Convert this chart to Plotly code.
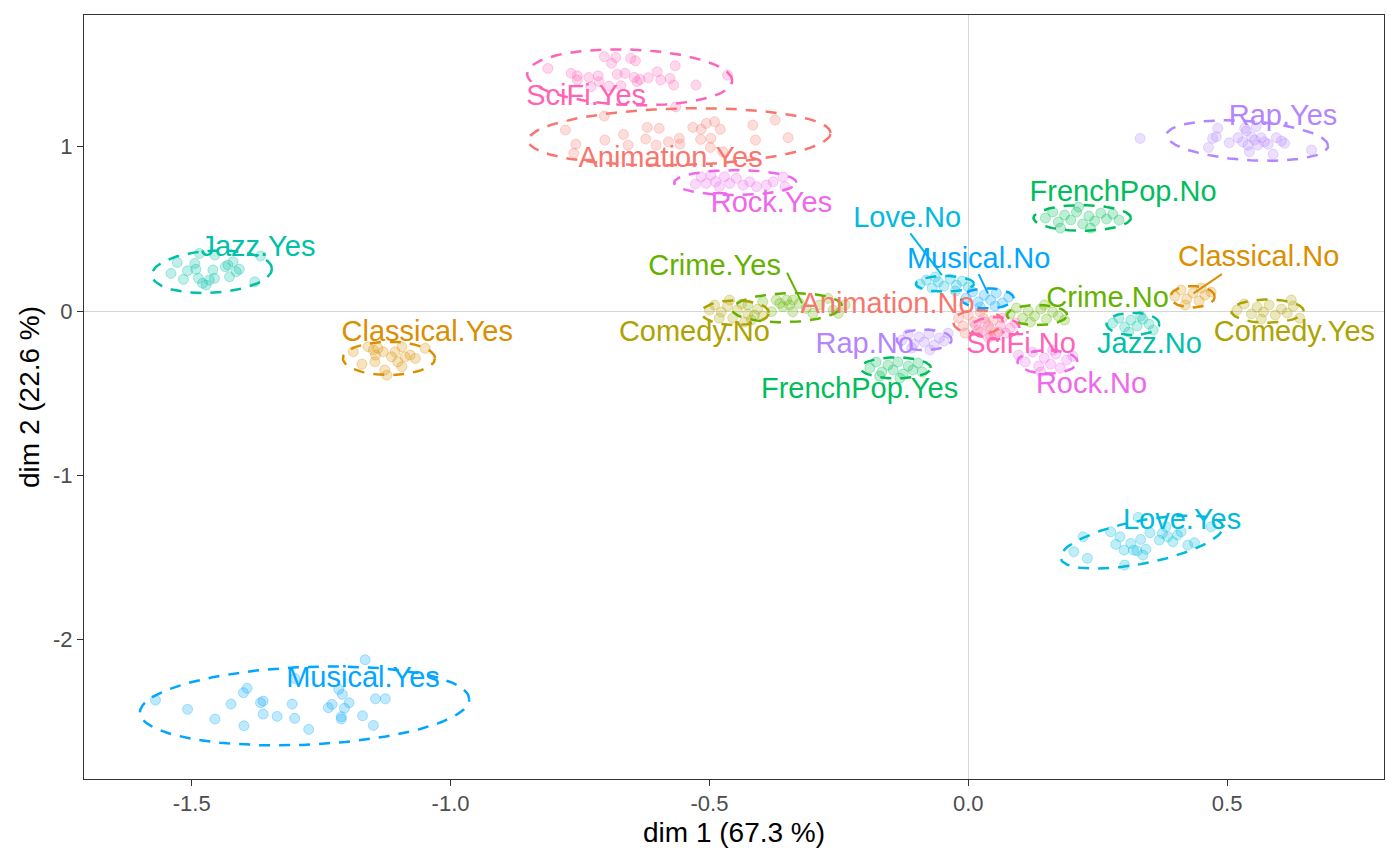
import numpy as np
import plotly.graph_objects as go

# hue palette per variable
colors = {
    "Animation": "#F8766D", "Classical": "#DB8E00", "Comedy": "#AEA200",
    "Crime": "#64B200", "FrenchPop": "#00BD5C", "Jazz": "#00C1A7",
    "Love": "#00BADE", "Musical": "#00A6FF", "Rap": "#B385FF",
    "Rock": "#EF67EB", "SciFi": "#FF63B6",
}

# bootstrap replicate coordinates (dim 1, dim 2)
jazz_yes = [(-1.528, 0.296), (-1.540, 0.229), (-1.516, 0.193), (-1.508, 0.245), (-1.494, 0.290),
            (-1.492, 0.254), (-1.487, 0.199), (-1.479, 0.169), (-1.472, 0.158), (-1.466, 0.189),
            (-1.459, 0.250), (-1.456, 0.199), (-1.455, 0.341), (-1.435, 0.270), (-1.430, 0.280),
            (-1.427, 0.209), (-1.420, 0.300), (-1.414, 0.239), (-1.408, 0.254), (-1.378, 0.178),
            (-1.367, 0.335), (-1.485, 0.351)]
classical_yes = [(-1.188, -0.248), (-1.171, -0.323), (-1.159, -0.217), (-1.149, -0.237), (-1.145, -0.268),
                 (-1.140, -0.227), (-1.130, -0.248), (-1.127, -0.359), (-1.123, -0.390), (-1.114, -0.278),
                 (-1.107, -0.248), (-1.102, -0.309), (-1.094, -0.217), (-1.094, -0.339), (-1.088, -0.278),
                 (-1.078, -0.268), (-1.068, -0.288), (-1.049, -0.227), (-1.146, -0.309)]
musical_yes = [(-1.570, -2.368), (-1.508, -2.424), (-1.455, -2.483), (-1.424, -2.392), (-1.400, -2.323),
               (-1.393, -2.296), (-1.399, -2.524), (-1.367, -2.384), (-1.362, -2.374), (-1.362, -2.453),
               (-1.335, -2.467), (-1.306, -2.392), (-1.301, -2.479), (-1.301, -2.236), (-1.274, -2.546),
               (-1.236, -2.414), (-1.229, -2.394), (-1.216, -2.302), (-1.209, -2.333), (-1.205, -2.418),
               (-1.211, -2.483), (-1.211, -2.469), (-1.196, -2.384), (-1.170, -2.463), (-1.165, -2.122),
               (-1.149, -2.522), (-1.145, -2.360), (-1.126, -2.360)]
scifi_yes = [(-0.812, 1.477), (-0.767, 1.447), (-0.755, 1.432), (-0.755, 1.406), (-0.733, 1.422),
             (-0.729, 1.365), (-0.715, 1.432), (-0.713, 1.396), (-0.703, 1.548), (-0.694, 1.369),
             (-0.689, 1.508), (-0.681, 1.544), (-0.678, 1.441), (-0.671, 1.371), (-0.663, 1.447),
             (-0.652, 1.538), (-0.643, 1.523), (-0.645, 1.422), (-0.640, 1.396), (-0.634, 1.410),
             (-0.618, 1.420), (-0.601, 1.456), (-0.594, 1.406), (-0.576, 1.416), (-0.569, 1.376),
             (-0.566, 1.493), (-0.565, 1.243), (-0.526, 1.376), (-0.465, 1.436)]
animation_yes = [(-0.778, 1.102), (-0.758, 1.016), (-0.762, 0.960), (-0.703, 1.187), (-0.702, 1.041),
                 (-0.666, 1.075), (-0.657, 1.010), (-0.623, 1.047), (-0.620, 1.118), (-0.597, 1.112),
                 (-0.603, 1.010), (-0.579, 1.030), (-0.558, 1.051), (-0.557, 1.016), (-0.532, 1.118),
                 (-0.516, 1.106), (-0.506, 1.142), (-0.490, 1.152), (-0.517, 1.045), (-0.497, 1.051),
                 (-0.498, 0.996), (-0.479, 1.106), (-0.474, 0.970), (-0.416, 1.132), (-0.411, 1.041),
                 (-0.373, 1.163), (-0.348, 1.055)]
rock_yes = [(-0.527, 0.773), (-0.516, 0.817), (-0.506, 0.777), (-0.497, 0.828), (-0.488, 0.787),
            (-0.481, 0.757), (-0.471, 0.817), (-0.461, 0.777), (-0.448, 0.808), (-0.435, 0.767),
            (-0.422, 0.787), (-0.409, 0.757), (-0.390, 0.767), (-0.377, 0.787), (-0.358, 0.817),
            (-0.354, 0.757)]
rap_yes = [(0.332, 1.051), (0.464, 0.996), (0.472, 1.051), (0.482, 1.112), (0.479, 1.061),
           (0.504, 1.024), (0.521, 1.055), (0.530, 1.030), (0.537, 1.096), (0.540, 1.010),
           (0.543, 0.970), (0.547, 1.061), (0.553, 1.041), (0.559, 1.010), (0.566, 1.055),
           (0.572, 1.030), (0.579, 1.015), (0.589, 0.954), (0.595, 1.055), (0.605, 1.035),
           (0.611, 1.021), (0.663, 0.980), (0.534, 1.112), (0.556, 1.122)]
love_yes = [(0.204, -1.465), (0.222, -1.374), (0.230, -1.505), (0.275, -1.343), (0.285, -1.420),
            (0.293, -1.374), (0.301, -1.455), (0.302, -1.546), (0.314, -1.414), (0.319, -1.455),
            (0.328, -1.256), (0.326, -1.459), (0.333, -1.390), (0.337, -1.485), (0.343, -1.450),
            (0.351, -1.349), (0.369, -1.394), (0.375, -1.353), (0.382, -1.313), (0.385, -1.374),
            (0.395, -1.404), (0.404, -1.363), (0.411, -1.343), (0.424, -1.424), (0.437, -1.410),
            (0.469, -1.313)]
frenchpop_no = [(0.149, 0.566), (0.163, 0.603), (0.174, 0.542), (0.186, 0.584), (0.198, 0.554),
                (0.209, 0.603), (0.221, 0.530), (0.233, 0.578), (0.244, 0.548), (0.256, 0.596),
                (0.267, 0.560), (0.279, 0.590), (0.291, 0.554), (0.178, 0.505), (0.236, 0.505),
                (0.213, 0.633)]
love_no = [(-0.093, 0.164), (-0.081, 0.189), (-0.070, 0.140), (-0.058, 0.177), (-0.047, 0.152),
           (-0.035, 0.195), (-0.023, 0.158), (-0.012, 0.183), (0.000, 0.146), (-0.064, 0.207),
           (-0.025, 0.122)]
musical_no = [(-0.004, 0.079), (0.008, 0.116), (0.019, 0.055), (0.031, 0.097), (0.043, 0.067),
              (0.054, 0.110), (0.066, 0.049), (0.078, 0.085), (0.023, 0.024), (0.052, 0.030)]
classical_no = [(0.399, 0.091), (0.411, 0.128), (0.422, 0.073), (0.434, 0.110), (0.446, 0.061),
                (0.457, 0.097), (0.469, 0.116), (0.419, 0.037), (0.450, 0.140)]
crime_yes = [(-0.397, 0.057), (-0.380, -0.004), (-0.371, 0.067), (-0.364, 0.047), (-0.358, 0.026),
             (-0.351, 0.067), (-0.345, 0.037), (-0.339, -0.004), (-0.326, 0.047), (-0.313, 0.016),
             (-0.300, -0.014), (-0.287, 0.037), (-0.271, 0.077), (-0.261, 0.006), (-0.251, -0.014),
             (-0.339, 0.067), (-0.426, 0.037), (-0.413, -0.024), (-0.238, 0.037)]
comedy_no = [(-0.500, 0.006), (-0.490, 0.037), (-0.477, -0.006), (-0.465, 0.030), (-0.455, -0.043),
             (-0.446, 0.006), (-0.438, 0.043), (-0.426, -0.018), (-0.419, -0.055), (-0.407, 0.012),
             (-0.397, -0.030), (-0.481, -0.043), (-0.461, 0.067), (-0.432, -0.067)]
animation_no = [(-0.019, -0.043), (-0.010, -0.091), (0.000, -0.024), (0.010, -0.067), (0.019, -0.116),
                (0.029, -0.043), (0.039, -0.091), (0.048, -0.055), (0.058, -0.128), (-0.006, -0.134),
                (0.023, -0.006), (0.043, -0.152)]
scifi_no = [(0.014, -0.085), (0.023, -0.128), (0.033, -0.067), (0.043, -0.116), (0.052, -0.152),
            (0.062, -0.091), (0.072, -0.134), (0.081, -0.103), (0.091, -0.073), (0.039, -0.164),
            (0.066, -0.043)]
rock_no = [(0.097, -0.268), (0.110, -0.310), (0.124, -0.250), (0.136, -0.335), (0.147, -0.286),
           (0.159, -0.323), (0.169, -0.262), (0.178, -0.347), (0.190, -0.298), (0.202, -0.274),
           (0.140, -0.371), (0.163, -0.237)]
crime_no = [(0.081, -0.018), (0.093, 0.018), (0.105, -0.043), (0.116, 0.000), (0.128, -0.030),
            (0.140, 0.012), (0.151, -0.049), (0.163, -0.006), (0.174, -0.030), (0.186, -0.055),
            (0.120, -0.067), (0.147, 0.037)]
jazz_no = [(0.279, -0.073), (0.291, -0.043), (0.302, -0.097), (0.314, -0.055), (0.326, -0.091),
           (0.337, -0.049), (0.349, -0.079), (0.357, -0.116), (0.310, -0.128), (0.333, -0.030)]
comedy_yes = [(0.519, 0.006), (0.533, 0.043), (0.547, -0.018), (0.558, 0.024), (0.570, -0.006),
              (0.581, 0.037), (0.593, -0.024), (0.605, 0.012), (0.616, -0.012), (0.628, 0.030),
              (0.640, -0.043), (0.566, -0.049), (0.624, 0.067)]
rap_no = [(-0.128, -0.177), (-0.116, -0.140), (-0.105, -0.201), (-0.095, -0.158), (-0.085, -0.189),
          (-0.076, -0.140), (-0.066, -0.207), (-0.056, -0.164), (-0.047, -0.183), (-0.109, -0.225),
          (-0.074, -0.237), (-0.039, -0.134)]
frenchpop_yes = [(-0.190, -0.347), (-0.178, -0.310), (-0.167, -0.371), (-0.155, -0.329), (-0.145, -0.359),
                 (-0.136, -0.310), (-0.126, -0.383), (-0.116, -0.335), (-0.107, -0.359), (-0.097, -0.316),
                 (-0.089, -0.371), (-0.171, -0.396), (-0.132, -0.408)]

# (category, variable, replicates, ellipse: cx, cy, ax, ay, by)
groups = [
    ("Jazz.Yes", "Jazz", jazz_yes, (-1.461, 0.239, 0.116, 0.018, 0.128)),
    ("Classical.Yes", "Classical", classical_yes, (-1.119, -0.288, 0.089, 0.0, 0.101)),
    ("Musical.Yes", "Musical", musical_yes, (-1.282, -2.403, 0.318, 0.040, 0.237)),
    ("SciFi.Yes", "SciFi", scifi_yes, (-0.654, 1.423, 0.198, -0.021, 0.169)),
    ("Animation.Yes", "Animation", animation_yes, (-0.558, 1.061, 0.292, 0.022, 0.172)),
    ("Rock.Yes", "Rock", rock_yes, (-0.450, 0.782, 0.118, 0.0, 0.076)),
    ("Rap.Yes", "Rap", rap_yes, (0.539, 1.038, 0.156, -0.032, 0.119)),
    ("Love.Yes", "Love", love_yes, (0.335, -1.406, 0.157, 0.091, 0.133)),
    ("FrenchPop.No", "FrenchPop", frenchpop_no, (0.220, 0.567, 0.094, 0.0, 0.078)),
    ("Love.No", "Love", love_no, (-0.045, 0.166, 0.056, 0.0, 0.048)),
    ("Musical.No", "Musical", musical_no, (0.037, 0.077, 0.051, 0.0, 0.061)),
    ("Classical.No", "Classical", classical_no, (0.433, 0.087, 0.043, 0.0, 0.065)),
    ("Crime.Yes", "Crime", crime_yes, (-0.350, 0.021, 0.106, 0.010, 0.088)),
    ("Comedy.No", "Comedy", comedy_no, (-0.450, -0.010, 0.065, 0.0, 0.075)),
    ("Animation.No", "Animation", animation_no, (0.019, -0.067, 0.048, 0.0, 0.073)),
    ("Crime.No", "Crime", crime_no, (0.133, -0.024, 0.058, 0.0, 0.061)),
    ("Comedy.Yes", "Comedy", comedy_yes, (0.578, 0.000, 0.070, 0.0, 0.071)),
    ("Jazz.No", "Jazz", jazz_no, (0.318, -0.078, 0.051, 0.0, 0.068)),
    ("Rap.No", "Rap", rap_no, (-0.085, -0.175, 0.053, 0.0, 0.063)),
    ("SciFi.No", "SciFi", scifi_no, (0.052, -0.103, 0.047, 0.0, 0.067)),
    ("Rock.No", "Rock", rock_no, (0.153, -0.309, 0.058, 0.0, 0.071)),
    ("FrenchPop.Yes", "FrenchPop", frenchpop_yes, (-0.140, -0.346, 0.068, 0.0, 0.064)),
]

# repelled label positions
label_pos = {
    "SciFi.Yes": (-0.738, 1.296), "Animation.Yes": (-0.575, 0.919), "Rock.Yes": (-0.380, 0.645),
    "Rap.Yes": (0.608, 1.175), "FrenchPop.No": (0.299, 0.712), "Love.No": (-0.118, 0.554),
    "Musical.No": (0.020, 0.304), "Classical.No": (0.561, 0.316), "Crime.Yes": (-0.490, 0.262),
    "Animation.No": (-0.156, 0.030), "Crime.No": (0.269, 0.067), "Comedy.No": (-0.529, -0.140),
    "Comedy.Yes": (0.630, -0.140), "Jazz.No": (0.350, -0.213), "Rap.No": (-0.200, -0.213),
    "SciFi.No": (0.102, -0.213), "Rock.No": (0.238, -0.456), "FrenchPop.Yes": (-0.210, -0.487),
    "Jazz.Yes": (-1.372, 0.377), "Classical.Yes": (-1.045, -0.140), "Love.Yes": (0.413, -1.284),
    "Musical.Yes": (-1.169, -2.246),
}

# leader segments: label side -> category point
segments = {
    "Love.No": ((-0.112, 0.473), (-0.051, 0.219)),
    "Musical.No": ((0.020, 0.225), (0.038, 0.108)),
    "Classical.No": ((0.490, 0.225), (0.435, 0.108)),
    "Crime.Yes": ((-0.350, 0.233), (-0.321, 0.047)),
}


def rgba(hex_col, a):
    h = hex_col.lstrip("#")
    return f"rgba({int(h[0:2], 16)},{int(h[2:4], 16)},{int(h[4:6], 16)},{a})"


def ellipse(cx, cy, ax, ay, by, n=120):
    t = np.linspace(0, 2 * np.pi, n)
    return cx + ax * np.cos(t), cy + ay * np.cos(t) + by * np.sin(t)


FONT = "Liberation Sans, Arial, Helvetica, sans-serif"
fig = go.Figure()

# points
for name, var, pts, _ in groups:
    col = colors[var]
    fig.add_trace(go.Scatter(
        x=[p[0] for p in pts], y=[p[1] for p in pts], mode="markers",
        marker=dict(size=10, color=rgba(col, 0.25), line=dict(width=1, color=rgba(col, 0.3))),
        hoverinfo="skip", showlegend=False,
    ))

# ellipses
for name, var, pts, ell in groups:
    ex, ey = ellipse(*ell)
    fig.add_trace(go.Scatter(
        x=ex, y=ey, mode="lines",
        line=dict(color=colors[var], width=2.5, dash="11px,9px"),
        hoverinfo="skip", showlegend=False,
    ))

# leader lines
for name, (p0, p1) in segments.items():
    var = name.split(".")[0]
    fig.add_trace(go.Scatter(
        x=[p0[0], p1[0]], y=[p0[1], p1[1]], mode="lines",
        line=dict(color=colors[var], width=2), hoverinfo="skip", showlegend=False,
    ))

# labels
for name, var, pts, _ in groups:
    lx, ly = label_pos[name]
    fig.add_trace(go.Scatter(
        x=[lx], y=[ly], mode="text", text=[name],
        textfont=dict(family=FONT, size=29, color=colors[var]),
        hoverinfo="skip", showlegend=False,
    ))

axis_style = dict(
    automargin=False, showgrid=False,
    zeroline=True, zerolinecolor="#D6D6D6", zerolinewidth=1,
    showline=True, mirror=True, linecolor="#333333", linewidth=1.2,
    ticks="outside", ticklen=6, tickcolor="#333333", tickwidth=1.2,
    tickfont=dict(family=FONT, size=22, color="#4D4D4D"),
)
fig.update_xaxes(
    range=[-1.708, 0.803], tickvals=[-1.5, -1.0, -0.5, 0.0, 0.5],
    ticktext=["-1.5", "-1.0", "-0.5", "0.0", "0.5"], ticklabelstandoff=-2, **axis_style,
)
fig.update_yaxes(
    range=[-2.848, 1.802], tickvals=[-2, -1, 0, 1], ticktext=["-2", "-1", "0", "1"],
    **axis_style,
)

# axis titles
fig.add_annotation(
    text="dim 1 (67.3 %)", xref="paper", yref="paper", x=0.5, y=0,
    xanchor="center", yanchor="middle", yshift=-53, showarrow=False,
    font=dict(family=FONT, size=28, color="black"),
)
fig.add_annotation(
    text="dim 2 (22.6 %)", xref="paper", yref="paper", x=0, y=0.5,
    xanchor="center", yanchor="middle", xshift=-55, textangle=-90, showarrow=False,
    font=dict(family=FONT, size=28, color="black"),
)

fig.update_layout(
    width=1400, height=865,
    margin=dict(l=84, r=16, t=15, b=86),
    plot_bgcolor="white", paper_bgcolor="white",
)

fig.write_html(
    "out.html",
    config={"displayModeBar": False},
    post_script="document.body.style.margin='0';",
)
